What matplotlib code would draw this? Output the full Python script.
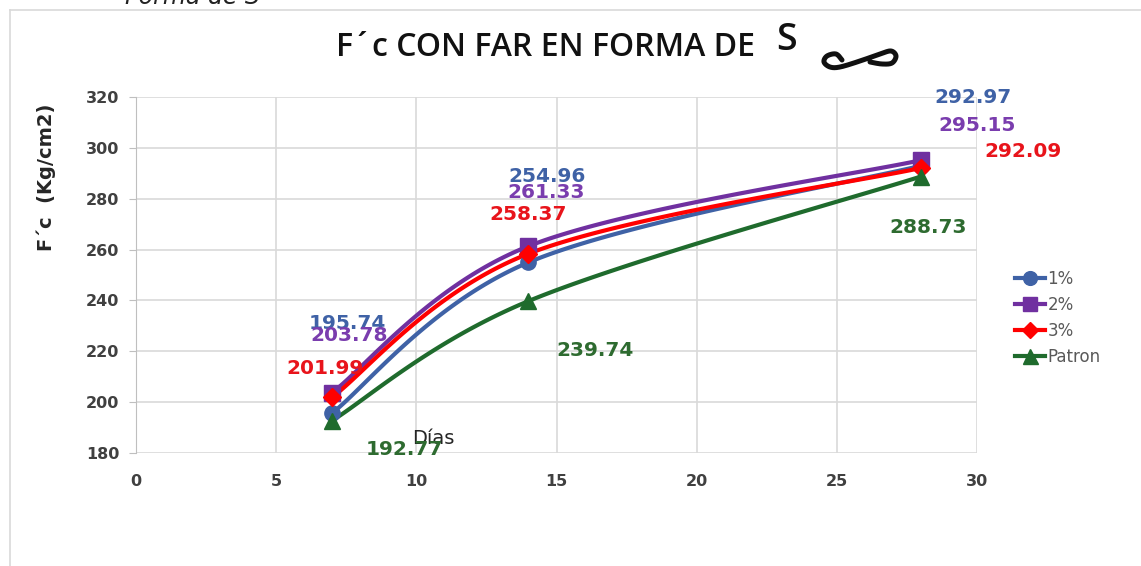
import numpy as np
import matplotlib
matplotlib.use("Agg")
import matplotlib.pyplot as plt
from matplotlib.lines import Line2D

# Compressive strength (kg/cm2) vs curing age (days)
dias = [7, 14, 28]
series_names = ["1%", "2%", "3%", "Patron"]
fc_1 = [195.74, 254.96, 292.97]
fc_2 = [203.78, 261.33, 295.15]
fc_3 = [201.99, 258.37, 292.09]
fc_patron = [192.77, 239.74, 288.73]
x_ticks = [0, 5, 10, 15, 20, 25, 30]
y_ticks = [180, 200, 220, 240, 260, 280, 300, 320]

colors = ["#3F62A6", "#7030A0", "#FF0000", "#1F6B2D"]
markers = ["o", "s", "D", "^"]
msizes = [11, 11, 9, 12]
label_colors = ["#3F62A6", "#7A3DAE", "#E8141B", "#2E6B30"]

# label offsets (pixels) from each point, per series
label_offsets = [
    [(15, 89), (19, 86), (52, 68)],
    [(17, 57), (18, 54), (56, 35)],
    [(-7, 29), (0, 39), (102, 16)],
    [(72, -29), (67, -49), (7, -51)],
]

W, H = 1141, 566
fig = plt.figure(figsize=(W / 100, H / 100), dpi=100)
ax = fig.add_axes([136 / W, 1 - 453 / H, (977 - 136) / W, (453 - 97) / H])

ax.set_xlim(0, 30)
ax.set_ylim(180, 320)
ax.set_xticks(x_ticks)
ax.set_yticks(y_ticks)
ax.grid(True, color="#D9D9D9", linewidth=1.2)
ax.set_axisbelow(True)
for s in ["top", "right", "bottom"]:
    ax.spines[s].set_visible(False)
ax.spines["left"].set_color("#BFBFBF")
ax.tick_params(axis="y", length=5, color="#BFBFBF", pad=7)
ax.tick_params(axis="x", length=0, pad=15)
for lab in ax.get_xticklabels() + ax.get_yticklabels():
    lab.set_fontweight("bold")
    lab.set_fontsize(11.5)
    lab.set_color("#404040")

# pixel scale used for smoothing the curves
sx = (977 - 136) / 30.0
sy = (453 - 97) / 140.0


def catmull_rom(P, n=60):
    pts = np.vstack([P[0], P, P[-1]])
    out = []
    t = np.linspace(0, 1, n)[:, None]
    for i in range(1, len(pts) - 2):
        p0, p1, p2, p3 = pts[i - 1:i + 3]
        seg = 0.5 * (2 * p1 + (-p0 + p2) * t
                     + (2 * p0 - 5 * p1 + 4 * p2 - p3) * t ** 2
                     + (-p0 + 3 * p1 - 3 * p2 + p3) * t ** 3)
        out.append(seg)
    return np.vstack(out)


def smooth(xs, ys):
    P = np.column_stack([np.asarray(xs, float) * sx, np.asarray(ys, float) * sy])
    c = catmull_rom(P)
    return c[:, 0] / sx, c[:, 1] / sy


all_series = [fc_1, fc_2, fc_3, fc_patron]
handles = []
for vals, name, col, mk, ms, lc, offs in zip(all_series, series_names, colors,
                                             markers, msizes, label_colors,
                                             label_offsets):
    cx, cy = smooth(dias, vals)
    ax.plot(cx, cy, color=col, linewidth=3, solid_capstyle="round", zorder=3)
    ax.plot(dias, vals, linestyle="none", marker=mk, markersize=ms,
            color=col, zorder=4, clip_on=False)
    for xv, yv, (dx, dy) in zip(dias, vals, offs):
        ax.annotate(f"{yv:.2f}", (xv, yv), xytext=(dx, dy),
                    textcoords="offset pixels", ha="center", va="center",
                    fontsize=14.5, fontweight="bold", color=lc, zorder=5)
    handles.append(Line2D([], [], color=col, marker=mk, markersize=ms * 0.9,
                          linewidth=3))

leg = fig.legend(handles, series_names, loc="upper left",
                 bbox_to_anchor=(1015 / W, 1 - 270 / H), frameon=False,
                 fontsize=12, handlelength=1.8, handletextpad=0.15,
                 labelspacing=0.48, borderpad=0, borderaxespad=0)
for t in leg.get_texts():
    t.set_color("#595959")

# x-axis title placed inside the plot area
ax.text(433, H - 439, "Días", transform=None, ha="center", va="center",
        fontsize=14, color="#262626")

ax.set_ylabel("F´c  (Kg/cm2)", fontsize=14, fontweight="bold",
              color="#262626")
ax.yaxis.set_label_coords((56 - 136) / (977 - 136), (453 - 177) / (453 - 97))

fig.text(545 / W, 1 - 48 / H, "F´c CON FAR EN FORMA DE", ha="center",
         va="center", fontsize=23, fontfamily="Open Sans", fontweight="semibold",
         color="#111111")
fig.text(786 / W, 1 - 40 / H, "S", ha="center", va="center", fontsize=27,
         fontfamily="Open Sans", fontweight="semibold", color="#111111")

# hand-drawn squiggle next to the title (pixel coordinates, y downward)
squiggle = np.array([
    (842, 60), (836, 54), (827, 56), (824, 62), (830, 67), (840, 67),
    (860, 61), (880, 54), (891, 51), (896, 56), (892, 63), (882, 64),
    (870, 62),
], float)
sq = catmull_rom(squiggle, n=20)
fig.add_artist(Line2D(sq[:, 0], H - sq[:, 1], transform=None,
                      color="#111111", lw=3.6, solid_capstyle="round",
                      solid_joinstyle="round"))

fig.text(192 / W, 1 - 4 / H, "Forma de S", ha="center", va="baseline",
         fontsize=17, style="italic", color="#222222")

# chart border
fig.add_artist(Line2D([10 / W, 1], [1 - 10 / H, 1 - 10 / H],
                      transform=fig.transFigure, color="#D9D9D9", lw=1.2))
fig.add_artist(Line2D([10 / W, 10 / W], [0, 1 - 10 / H],
                      transform=fig.transFigure, color="#D9D9D9", lw=1.2))

fig.savefig("out.png", dpi=100)
